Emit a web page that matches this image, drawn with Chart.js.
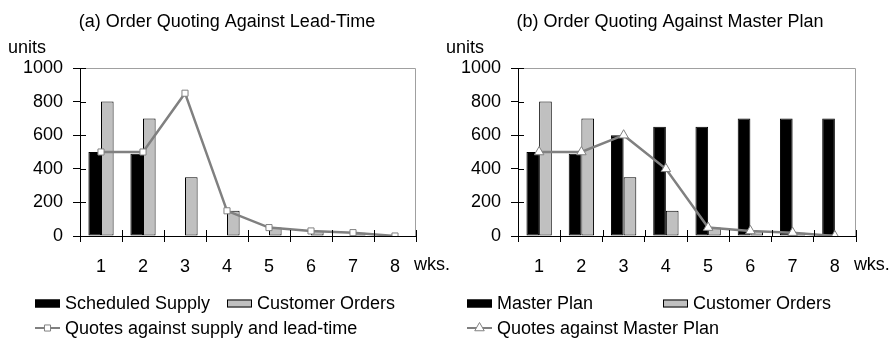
<!DOCTYPE html>
<html>
<head>
<meta charset="utf-8">
<script src="https://cdn.jsdelivr.net/npm/chart.js@4/dist/chart.umd.min.js"></script>
<style>
  html, body { margin: 0; padding: 0; background: #fff; }
  #wrap { position: relative; width: 891px; height: 342px; overflow: hidden; }
  canvas { position: absolute; top: 0; }
  #leadTime { left: 0; }
  #masterPlan { left: 438px; }
</style>
</head>
<body>
<div id="wrap">
  <canvas id="leadTime" width="460" height="342"></canvas>
  <canvas id="masterPlan" width="453" height="342"></canvas>
</div>
<script>
// weekly data, read per week 1..8
var weeks = ["1", "2", "3", "4", "5", "6", "7", "8"];
var yTicks = [0, 200, 400, 600, 800, 1000];

var scheduledSupply = [500, 490, 0, 0, 0, 0, 0, 0];
var customerOrders = [800, 700, 350, 150, 50, 30, 20, 0];
var quotesLeadTime = [500, 500, 850, 150, 50, 30, 20, 0];

var masterPlan = [500, 490, 600, 650, 650, 700, 700, 700];
var quotesMasterPlan = [500, 500, 600, 400, 50, 30, 20, 0];

var FONT = "'Liberation Sans', Arial, sans-serif";
Chart.defaults.font.family = FONT;
Chart.defaults.font.size = 18;
Chart.defaults.color = "#000";

var lineGray = "#808080";
var barGray = "#c0c0c0";

function barSet(label, data, fill) {
    return {
        label: label,
        data: data,
        backgroundColor: fill,
        borderColor: "#000",
        borderWidth: 1,
        borderSkipped: false,
        categoryPercentage: 0.6,
        barPercentage: 1.0,
        order: 2
    };
}

function lineSet(label, data, style, radius) {
    return {
        type: "line",
        label: label,
        data: data,
        borderColor: lineGray,
        borderWidth: 2.5,
        pointStyle: style,
        pointRadius: radius,
        pointBackgroundColor: "#fff",
        pointBorderColor: lineGray,
        pointBorderWidth: 1,
        tension: 0,
        order: 1
    };
}

// frame, titles, axis captions and the legend underneath
var decorations = {
    id: "decorations",
    afterDraw: function (chart, args, opts) {
        var ctx = chart.ctx;
        var a = chart.chartArea;
        var x = chart.scales.x;
        var y = chart.scales.y;
        ctx.save();

        // light border on top and right
        ctx.strokeStyle = "#a0a0a0";
        ctx.lineWidth = 1;
        ctx.beginPath();
        ctx.moveTo(a.left, a.top + 0.5);
        ctx.lineTo(a.right - 0.5, a.top + 0.5);
        ctx.lineTo(a.right - 0.5, a.bottom);
        ctx.stroke();

        // tick marks cross the axes
        ctx.strokeStyle = "#000";
        ctx.beginPath();
        yTicks.forEach(function (v) {
            var py = Math.round(y.getPixelForValue(v)) + 0.5;
            ctx.moveTo(a.left, py);
            ctx.lineTo(a.left + 6, py);
        });
        for (var i = 0; i <= weeks.length; i++) {
            var px = Math.round(x.getPixelForValue(i - 0.5)) + 0.5;
            ctx.moveTo(px, a.bottom);
            ctx.lineTo(px, a.bottom - 6);
        }
        ctx.stroke();

        ctx.fillStyle = "#000";
        ctx.font = "18px " + FONT;
        ctx.textBaseline = "alphabetic";
        ctx.textAlign = "center";
        ctx.fillText(opts.title, opts.titleX, 27);
        ctx.textAlign = "left";
        ctx.fillText("units", a.left - 72, 53);
        ctx.textBaseline = "middle";
        ctx.fillText("wks.", x.getPixelForValue(weeks.length - 1) + 19, 265);

        // legend
        opts.legend.forEach(function (item) {
            var ds = chart.data.datasets[item.index];
            var cy = item.y;
            if (ds.type === "line") {
                ctx.strokeStyle = ds.borderColor;
                ctx.lineWidth = 2;
                ctx.beginPath();
                ctx.moveTo(item.x, cy);
                ctx.lineTo(item.x + 25, cy);
                ctx.stroke();
                ctx.fillStyle = ds.pointBackgroundColor;
                ctx.strokeStyle = ds.pointBorderColor;
                ctx.lineWidth = 1;
                Chart.helpers.drawPoint(ctx, {
                    pointStyle: ds.pointStyle,
                    radius: ds.pointRadius,
                    borderWidth: 1,
                    rotation: 0
                }, item.x + 12.5, cy);
            } else {
                ctx.fillStyle = ds.backgroundColor;
                ctx.fillRect(item.x, cy - 4, 25, 8);
                ctx.strokeStyle = "#000";
                ctx.lineWidth = 1;
                ctx.strokeRect(item.x + 0.5, cy - 3.5, 24, 7);
            }
            ctx.fillStyle = "#000";
            ctx.textAlign = "left";
            ctx.textBaseline = "middle";
            ctx.fillText(ds.label, item.x + 30, cy + 1);
        });
        ctx.restore();
    }
};

function makeChart(id, datasets, padRight, deco) {
    return new Chart(document.getElementById(id), {
        type: "bar",
        data: { labels: weeks, datasets: datasets },
        options: {
            responsive: false,
            animation: false,
            layout: { padding: { left: 0, top: 68, right: padRight, bottom: 70 } },
            scales: {
                x: {
                    offset: true,
                    grid: { offset: true, drawOnChartArea: false, color: "#000", tickLength: 6 },
                    border: { color: "#000" },
                    ticks: { padding: 14, maxRotation: 0 },
                    afterFit: function (s) { s.height = 36; }
                },
                y: {
                    min: 0,
                    max: 1000,
                    grid: { drawOnChartArea: false, color: "#000", tickLength: 7 },
                    border: { color: "#000" },
                    ticks: {
                        padding: 10,
                        callback: function (v) { return String(v); }
                    },
                    afterBuildTicks: function (s) {
                        s.ticks = yTicks.map(function (v) { return { value: v }; });
                    },
                    afterFit: function (s) { s.width = 80; }
                }
            },
            plugins: {
                legend: { display: false },
                tooltip: { enabled: false },
                decorations: deco
            }
        },
        plugins: [decorations]
    });
}

var chartA = makeChart("leadTime", [
    barSet("Scheduled Supply", scheduledSupply, "#000"),
    barSet("Customer Orders", customerOrders, barGray),
    lineSet("Quotes against supply and lead-time", quotesLeadTime, "rect", 4.3)
], 44, {
    title: "(a) Order Quoting Against Lead-Time",
    titleX: 227,
    legend: [
        { index: 0, x: 35, y: 303.5 },
        { index: 1, x: 227, y: 303.5 },
        { index: 2, x: 35, y: 328 }
    ]
});

var chartB = makeChart("masterPlan", [
    barSet("Master Plan", masterPlan, "#000"),
    barSet("Customer Orders", customerOrders, barGray),
    lineSet("Quotes against Master Plan", quotesMasterPlan, "triangle", 5.5)
], 35, {
    title: "(b) Order Quoting Against Master Plan",
    titleX: 232,
    legend: [
        { index: 0, x: 29, y: 303.5 },
        { index: 1, x: 225, y: 303.5 },
        { index: 2, x: 29, y: 328 }
    ]
});
</script>
</body>
</html>
